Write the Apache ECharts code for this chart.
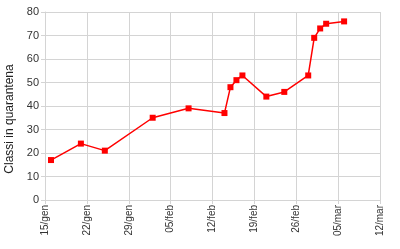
<!DOCTYPE html>
<html><head><meta charset="utf-8">
<script src="https://cdn.jsdelivr.net/npm/echarts@6/dist/echarts.min.js"></script>
<style>html,body{margin:0;padding:0;background:#fff}#c{width:400px;height:249px}</style>
</head><body><div id="c"></div>
<script>
const startDate = '2021-01-15';
const dates = ['2021-01-16','2021-01-21','2021-01-25','2021-02-02','2021-02-08','2021-02-14','2021-02-15','2021-02-16','2021-02-17','2021-02-21','2021-02-24','2021-02-28','2021-03-01','2021-03-02','2021-03-03','2021-03-06'];
const values = [17,24,21,35,39,37,48,51,53,44,46,53,69,73,75,76];
const xTickLabels = ['15/gen','22/gen','29/gen','05/feb','12/feb','19/feb','26/feb','05/mar','12/mar'];
const yName = 'Classi in quarantena';

const DAY = 86400000;
const t0 = Date.parse(startDate);
const data = dates.map((d,i)=>[Math.round((Date.parse(d)-t0)/DAY), values[i]]);

const chart = echarts.init(document.getElementById('c'));
const gridCol = '#d4d4d4';
chart.setOption({
  animation:false,
  textStyle:{fontFamily:'Liberation Sans, Arial, sans-serif'},
  grid:{left:45,right:20,top:12,bottom:49,containLabel:false,outerBoundsMode:'none'},
  xAxis:{type:'value',min:0,max:(xTickLabels.length-1)*7,interval:7,
    axisLine:{show:true,lineStyle:{color:gridCol}},
    axisTick:{show:true,length:4,lineStyle:{color:gridCol}},
    splitLine:{show:true,lineStyle:{color:gridCol}},
    axisLabel:{rotate:90,fontSize:10,color:'#333',margin:5,hideOverlap:false,
      formatter:v=>xTickLabels[Math.round(v/7)]}},
  yAxis:{type:'value',min:0,max:80,interval:10,name:yName,nameLocation:'middle',nameGap:28,
    nameTextStyle:{fontSize:12,color:'#222',padding:[0,26,0,0]},
    axisLine:{show:true,lineStyle:{color:gridCol}},
    axisTick:{show:true,length:4,lineStyle:{color:gridCol}},
    splitLine:{show:true,lineStyle:{color:gridCol}},
    axisLabel:{fontSize:11,color:'#333',margin:6}},
  series:[{type:'line',data:data,symbol:'rect',symbolSize:6,
    lineStyle:{color:'#ff0000',width:1.5},itemStyle:{color:'#ff0000'}}]
});
</script></body></html>
